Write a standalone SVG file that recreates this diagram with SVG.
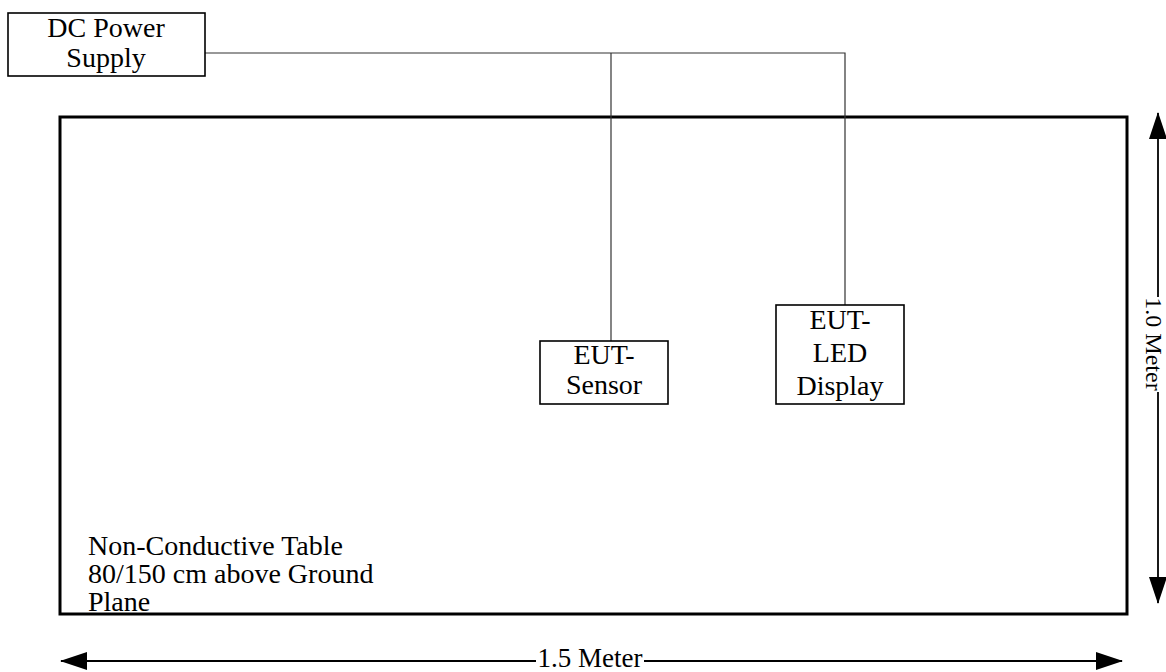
<svg xmlns="http://www.w3.org/2000/svg" width="1166" height="672" viewBox="0 0 1166 672">
<style>
text{font-family:"Liberation Serif","Times New Roman",serif;font-size:28px;fill:#000}
.c{text-anchor:middle}
.box{fill:#fff;stroke:#000;stroke-width:1.6}
.conn{fill:none;stroke:#333;stroke-width:1.2}
.dim{fill:none;stroke:#000;stroke-width:1.8}
</style>
<defs>
<marker id="ah" markerUnits="userSpaceOnUse" markerWidth="27" markerHeight="18" viewBox="0 0 27 18" refX="26" refY="9" orient="auto-start-reverse">
<path d="M0,0 L27,9 L0,18 z" fill="#000"/>
</marker>
</defs>
<g id="table">
<rect x="60" y="117" width="1067" height="497" fill="none" stroke="#000" stroke-width="3"/>
<text x="88" y="555">Non-Conductive Table</text>
<text x="88" y="583">80/150 cm above Ground</text>
<text x="88" y="611">Plane</text>
</g>
<g id="connectors">
<path class="conn" d="M205,53 H845 V305"/>
<path class="conn" d="M611,53 V341"/>
</g>
<g id="dc-power-supply">
<rect class="box" x="8" y="13" width="197" height="63"/>
<text class="c" x="106" y="37">DC Power</text>
<text class="c" x="106" y="67">Supply</text>
</g>
<g id="eut-sensor">
<rect class="box" x="540" y="341" width="128" height="63"/>
<text class="c" x="604" y="364">EUT-</text>
<text class="c" x="604" y="394">Sensor</text>
</g>
<g id="eut-led-display">
<rect class="box" x="776" y="305" width="128" height="99"/>
<text class="c" x="840" y="329">EUT-</text>
<text class="c" x="840" y="362">LED</text>
<text class="c" x="840" y="395">Display</text>
</g>
<g id="dim-width">
<path class="dim" d="M61,661 H536" marker-start="url(#ah)"/>
<path class="dim" d="M644,661 H1122" marker-end="url(#ah)"/>
<text class="c" x="590" y="667" style="font-size:27px">1.5 Meter</text>
</g>
<g id="dim-height">
<path class="dim" d="M1158,113 V297" marker-start="url(#ah)"/>
<path class="dim" d="M1158,392 V603" marker-end="url(#ah)"/>
<text class="c" transform="translate(1146,344) rotate(90)" style="font-size:24px">1.0 Meter</text>
</g>
</svg>
